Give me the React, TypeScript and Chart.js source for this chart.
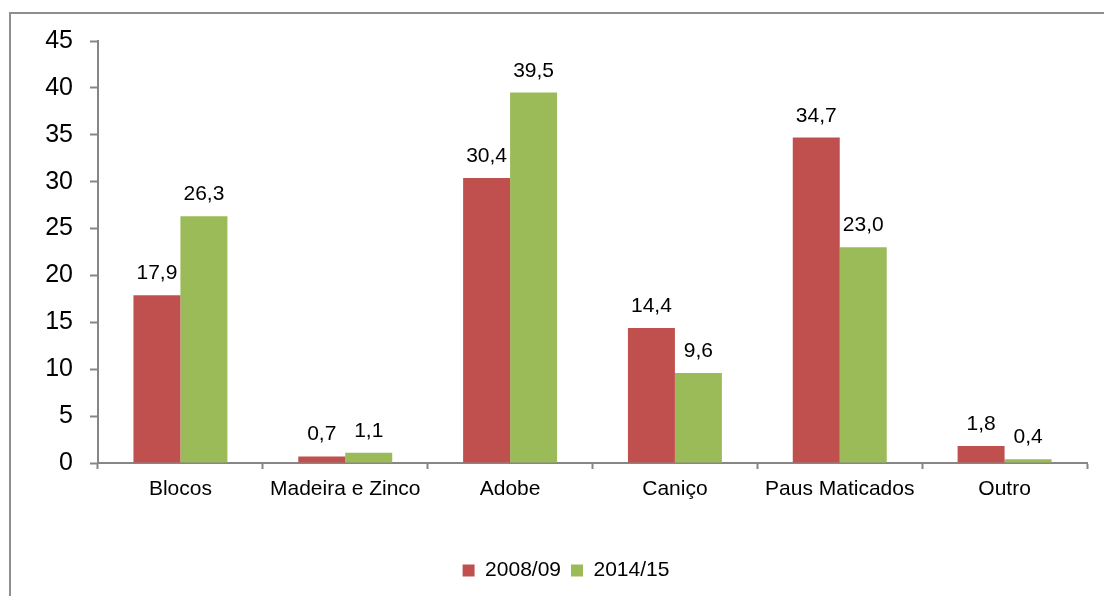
import React, { useEffect, useRef } from "react";
import { Chart, registerables } from "chart.js";

Chart.register(...registerables);

const categories = ["Blocos", "Madeira e Zinco", "Adobe", "Caniço", "Paus Maticados", "Outro"];
const seriesNames = ["2008/09", "2014/15"];
const values2008 = [17.9, 0.7, 30.4, 14.4, 34.7, 1.8];
const values2014 = [26.3, 1.1, 39.5, 9.6, 23.0, 0.4];
const yTicks = [0, 5, 10, 15, 20, 25, 30, 35, 40, 45];

const FONT = "'Liberation Sans', Arial, sans-serif";
const AXIS = "#868686";

const dataLabels = {
  id: "dataLabels",
  afterDatasetsDraw(chart: any) {
    const ctx = chart.ctx;
    ctx.save();
    ctx.font = `21px ${FONT}`;
    ctx.fillStyle = "#000";
    ctx.textAlign = "center";
    ctx.textBaseline = "alphabetic";
    chart.data.datasets.forEach((ds: any, i: number) => {
      const meta = chart.getDatasetMeta(i);
      meta.data.forEach((bar: any, j: number) => {
        const v = ds.data[j] as number;
        ctx.fillText(v.toFixed(1).replace(".", ","), bar.x, bar.y - 16);
      });
    });
    ctx.restore();
  },
};

export default function App() {
  const ref = useRef<HTMLCanvasElement>(null);
  useEffect(() => {
    if (!ref.current) return;
    const chart = new Chart(ref.current, {
      type: "bar",
      data: {
        labels: categories,
        datasets: [
          { label: seriesNames[0], data: values2008, backgroundColor: "#C0504D", borderWidth: 0 },
          { label: seriesNames[1], data: values2014, backgroundColor: "#9BBB59", borderWidth: 0 },
        ],
      },
      options: {
        animation: false,
        responsive: false,
        maintainAspectRatio: false,
        devicePixelRatio: 1,
        datasets: { bar: { categoryPercentage: 0.57, barPercentage: 1 } },
        layout: { padding: { left: 45, right: 17, top: 41, bottom: 5 } },
        plugins: {
          tooltip: { enabled: false },
          legend: {
            position: "bottom",
            labels: {
              boxWidth: 12,
              boxHeight: 12,
              padding: 10,
              color: "#000",
              font: { family: FONT, size: 21 },
            },
          },
        },
        scales: {
          x: {
            grid: { drawOnChartArea: false, offset: true, color: AXIS, tickLength: 6, tickWidth: 2 },
            border: { color: AXIS, width: 2 },
            ticks: { color: "#000", font: { family: FONT, size: 21 }, padding: 8, maxRotation: 0, autoSkip: false },
            afterFit: (s: any) => {
              s.height = 87;
            },
          },
          y: {
            min: 0,
            max: 45,
            afterBuildTicks: (s: any) => {
              s.ticks = yTicks.map((v) => ({ value: v }));
            },
            grid: { drawOnChartArea: false, color: AXIS, tickLength: 8, tickWidth: 2 },
            border: { color: AXIS, width: 2 },
            ticks: { color: "#000", font: { family: FONT, size: 25 }, padding: 17 },
            afterFit: (s: any) => {
              s.width = 53;
            },
          },
        },
      },
      plugins: [dataLabels],
    });
    return () => chart.destroy();
  }, []);

  return (
    <div style={{ position: "fixed", left: 0, top: 0, width: 1104, height: 596, overflow: "hidden", background: "#fff" }}>
      <canvas ref={ref} width={1104} height={596} style={{ position: "absolute", left: 0, top: 0, width: 1104, height: 596 }} />
      <div
        style={{
          position: "absolute",
          left: 9,
          top: 12,
          width: 1200,
          height: 700,
          borderLeft: "2px solid #8f8f8f",
          borderTop: "2px solid #8f8f8f",
          pointerEvents: "none",
        }}
      />
    </div>
  );
}
